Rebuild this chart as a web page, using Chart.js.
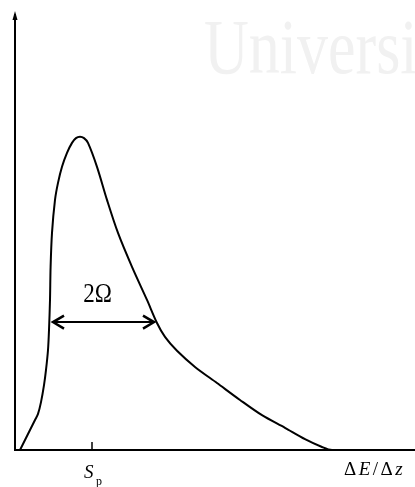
<!DOCTYPE html>
<html>
<head>
<meta charset="utf-8">
<script src="https://cdn.jsdelivr.net/npm/chart.js@4/dist/chart.umd.min.js"></script>
<style>
  html, body { margin: 0; padding: 0; background: #fff; }
  canvas { display: block; }
</style>
</head>
<body>
<canvas id="c" width="415" height="487"></canvas>
<script>
// Energy-loss distribution: probability vs. ΔE/Δz
const energyLoss = [1.25, 2.5, 3.75, 5.0, 5.75, 6.5, 7.25, 7.75, 8.25, 8.5, 8.75, 8.9, 9.25, 10.0, 10.75, 11.75, 13.0, 14.25, 15.25, 16.25,
                    17.25, 18.25, 20.5, 23.0, 25.75, 29.25, 33.0, 35.5, 37.5, 40.5, 45.0, 50.5, 56.25, 61.75, 67.5, 72.5, 76.75, 79.25, 100];
const probability = [0, 2.3, 4.6, 6.9, 8.3, 11.0, 14.9, 18.4, 23.0, 27.6, 34.5, 42.1, 49.9, 57.5, 61.4, 65.1, 68.3, 70.6, 71.7, 72.0,
                     71.7, 70.6, 65.1, 57.5, 49.9, 42.1, 34.5, 29.2, 26.0, 22.8, 19.1, 15.4, 11.5, 8.0, 5.1, 2.5, 0.7, 0, 0];

// Most probable value S_p and the width 2Ω marked on the curve
const mostProbable = 19.25;
const widthEnds = [9.25, 35.0];
const widthLevel = 29.4;

const SERIF = '"Liberation Serif", "DejaVu Serif", serif';

const curvePoints = energyLoss.map((x, i) => ({ x, y: probability[i] }));
const widthPoints = widthEnds.map(x => ({ x, y: widthLevel }));

const decorations = {
  id: 'decorations',
  beforeDraw(chart) {
    const ctx = chart.ctx;
    ctx.save();
    ctx.fillStyle = '#f1f1f1';
    ctx.font = '62px ' + SERIF;
    ctx.textBaseline = 'alphabetic';
    ctx.translate(204, 73);
    ctx.scale(1, 1.25);
    ctx.fillText('University', 0, 0);
    ctx.restore();
  },
  afterDatasetsDraw(chart) {
    const ctx = chart.ctx;
    const xs = chart.scales.x, ys = chart.scales.y;
    const x0 = xs.getPixelForValue(0), y0 = ys.getPixelForValue(0);
    const yTop = chart.chartArea.top;
    ctx.save();
    ctx.strokeStyle = '#000';
    ctx.fillStyle = '#000';
    ctx.lineWidth = 2;
    // axes
    ctx.beginPath();
    ctx.moveTo(x0, y0);
    ctx.lineTo(x0, yTop - 1);
    ctx.moveTo(x0 - 1, y0);
    ctx.lineTo(chart.width, y0);
    ctx.stroke();
    // arrowhead of the vertical axis
    ctx.beginPath();
    ctx.moveTo(x0, yTop - 4);
    ctx.lineTo(x0 + 2.5, yTop + 5);
    ctx.lineTo(x0 - 2.5, yTop + 5);
    ctx.closePath();
    ctx.fill();
    // tick at S_p
    const sp = xs.getPixelForValue(mostProbable);
    ctx.lineWidth = 1.5;
    ctx.beginPath();
    ctx.moveTo(sp, y0);
    ctx.lineTo(sp, y0 - 8);
    ctx.stroke();
    // arrowheads of the 2Ω marker
    const yl = ys.getPixelForValue(widthLevel);
    const xl = xs.getPixelForValue(widthEnds[0]);
    const xr = xs.getPixelForValue(widthEnds[1]);
    ctx.lineWidth = 2.5;
    ctx.lineJoin = 'miter';
    ctx.beginPath();
    ctx.moveTo(xl + 12, yl - 6.5);
    ctx.lineTo(xl + 1, yl);
    ctx.lineTo(xl + 12, yl + 6.5);
    ctx.moveTo(xr - 12, yl - 6.5);
    ctx.lineTo(xr - 1, yl);
    ctx.lineTo(xr - 12, yl + 6.5);
    ctx.stroke();
    // 2Ω label
    ctx.save();
    ctx.font = '22px ' + SERIF;
    ctx.textAlign = 'center';
    ctx.textBaseline = 'alphabetic';
    ctx.translate((xl + xr) / 2 - 6, yl - 20);
    ctx.scale(1.05, 1.2);
    ctx.fillText('2Ω', 0, 0);
    ctx.restore();
    // S_p label
    ctx.textAlign = 'left';
    ctx.font = 'italic 19px ' + SERIF;
    ctx.fillText('S', sp - 8, y0 + 28);
    ctx.font = '12px ' + SERIF;
    ctx.fillText('p', sp + 4, y0 + 35);
    // ΔE/Δz label
    const parts = [['Δ', ''], ['E', 'italic '], ['/', ''], ['Δ', ''], ['z', 'italic ']];
    let cx = 344;
    for (const [t, style] of parts) {
      ctx.font = style + '19px ' + SERIF;
      ctx.fillText(t, cx, y0 + 25);
      cx += ctx.measureText(t).width + 2.5;
    }
    ctx.restore();
  }
};

new Chart(document.getElementById('c'), {
  type: 'line',
  data: {
    datasets: [
      {
        data: curvePoints,
        borderColor: '#000',
        borderWidth: 2,
        pointRadius: 0,
        fill: false,
        tension: 0.3,
        clip: false
      },
      {
        data: widthPoints,
        borderColor: '#000',
        borderWidth: 2,
        pointRadius: 0,
        fill: false
      }
    ]
  },
  options: {
    responsive: false,
    devicePixelRatio: 1,
    animation: false,
    events: [],
    layout: { padding: { left: 15, right: 0, top: 15, bottom: 37 } },
    plugins: { legend: { display: false }, tooltip: { enabled: false } },
    scales: {
      x: { type: 'linear', min: 0, max: 100, display: false },
      y: { type: 'linear', min: 0, max: 100, display: false }
    }
  },
  plugins: [decorations]
});
</script>
</body>
</html>
